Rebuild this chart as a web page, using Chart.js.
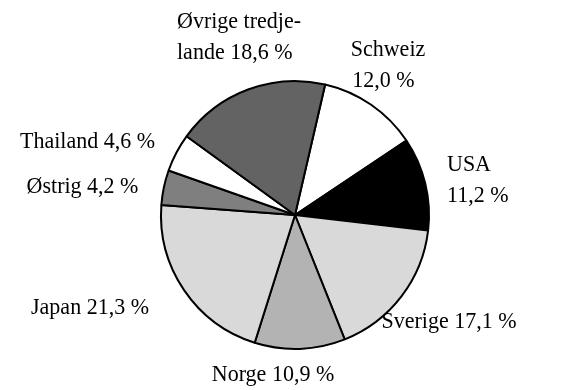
<!DOCTYPE html>
<html>
<head>
<meta charset="utf-8">
<script src="https://cdn.jsdelivr.net/npm/chart.js@4.4.1/dist/chart.umd.min.js"></script>
<style>
  html, body { margin: 0; padding: 0; background: #fff; }
  #wrap { width: 575px; height: 390px; position: relative; }
</style>
</head>
<body>
<div id="wrap"><canvas id="c"></canvas></div>
<script>
// Countries, clockwise from the top
const countries = ['Schweiz', 'USA', 'Sverige', 'Norge', 'Japan', 'Østrig', 'Thailand', 'Øvrige tredjelande'];
// Share in percent
const shares = [12.0, 11.2, 17.1, 10.9, 21.3, 4.2, 4.6, 18.6];
// Slice fills
const fills = ['#ffffff', '#000000', '#d9d9d9', '#b3b3b3', '#d9d9d9', '#7f7f7f', '#ffffff', '#636363'];

// Label text per slice; {v} is replaced by the formatted share
const labelLines = [
  ['Schweiz', '{v}'],
  ['USA', '{v}'],
  ['Sverige {v}'],
  ['Norge {v}'],
  ['Japan {v}'],
  ['Østrig {v}'],
  ['Thailand {v}'],
  ['Øvrige tredje-', 'lande {v}']
];
// Label placement relative to the pie centre: alignment, x offset per line, y of first line
const labelPlace = [
  ['center', [93, 88.5], -165],
  ['left', [152, 152], -50],
  ['center', [154], 107],
  ['center', [-22], 160],
  ['center', [-205], 93],
  ['center', [-212.5], -28],
  ['center', [-207.5], -73],
  ['left', [-118, -118], -193]
];
const lineGap = 31;

function fmt(v) {
  return v.toFixed(1).replace('.', ',') + ' %';
}

const labelPlugin = {
  id: 'sliceLabels',
  afterDraw(chart) {
    const ctx = chart.ctx;
    const arc = chart.getDatasetMeta(0).data[0];
    const cx = arc.x, cy = arc.y;
    ctx.save();
    ctx.fillStyle = '#000';
    ctx.font = '22px "Liberation Serif", serif';
    ctx.textBaseline = 'middle';
    labelLines.forEach((lines, i) => {
      const [align, xs, dy] = labelPlace[i];
      ctx.textAlign = align;
      lines.forEach((t, k) => {
        const txt = t.replace('{v}', fmt(shares[i]));
        ctx.save();
        ctx.translate(cx + xs[k], cy + dy + k * lineGap);
        ctx.scale(1, 1.07);
        ctx.fillText(txt, 0, 0);
        ctx.restore();
      });
    });
    ctx.restore();
  }
};

new Chart(document.getElementById('c'), {
  type: 'pie',
  data: {
    labels: countries,
    datasets: [{
      data: shares,
      backgroundColor: fills,
      borderColor: '#000',
      borderWidth: 2
    }]
  },
  options: {
    responsive: true,
    maintainAspectRatio: false,
    animation: false,
    rotation: 13,
    layout: { padding: { left: 160, right: 145, top: 80, bottom: 40 } },
    plugins: {
      legend: { display: false },
      tooltip: { enabled: false }
    }
  },
  plugins: [labelPlugin]
});
</script>
</body>
</html>
